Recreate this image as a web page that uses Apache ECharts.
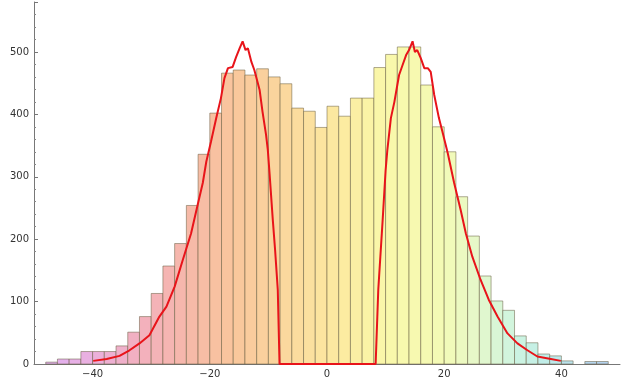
<!DOCTYPE html>
<html>
<head>
<meta charset="utf-8">
<script src="https://cdn.jsdelivr.net/npm/echarts@6/dist/echarts.min.js"></script>
<style>
  html, body { margin: 0; padding: 0; background: #fff; }
  #chart { width: 641px; height: 383px; }
</style>
</head>
<body>
<div id="chart"></div>
<script>
// Histogram bins: left edges (width 2) and counts
var binStart = -48;
var binWidth = 2;
var counts = [3, 8, 8, 20, 20, 20, 29, 51, 76, 113, 157, 193, 254, 336,
              402, 466, 471, 463, 473, 460, 449, 410, 405, 379,
              413, 397, 426, 426, 475, 496, 508, 508, 447, 380,
              340, 268, 205, 141, 101, 86, 45, 34, 16, 13, 5, 0, 4, 4];

// Density curve overlay (x, y)
var curveX = [-39.9, -37.6, -35.4, -33.7, -32.0, -30.3, -28.6, -27.4, -26.0, -24.6,
              -23.2, -22.0, -21.2, -20.6, -19.8, -18.9, -18.1, -17.5, -16.9, -16.1,
              -15.5, -14.9, -14.4, -13.9, -13.5, -12.9, -12.4, -11.8, -11.5, -11.0,
              -10.4, -10.1, -9.8, -9.25, -8.86, -8.4, -8.1,
              8.3, 8.75, 9.5, 10.0, 10.3, 10.9, 11.5, 12.0, 12.3, 12.9, 13.5, 14.0,
              14.6, 15.0, 15.4, 16.0, 16.6, 17.2, 17.7, 18.3, 19.1, 19.7, 20.6,
              21.7, 22.8, 23.7, 24.8, 26.2, 27.6, 29.1, 30.8, 32.5, 34.2, 35.9, 38.2, 39.9];
var curveY = [5, 8, 13, 22, 33, 46, 76, 92, 124, 167,
              209, 258, 290, 324, 356, 394, 426, 458, 474, 476,
              492, 506, 517, 503, 506, 484, 471, 450, 439, 404,
              367, 343, 305, 231, 183, 119, 0,
              0, 119, 231, 310, 343, 394, 420, 447, 463, 479, 495, 503,
              517, 500, 503, 490, 474, 474, 468, 431, 394, 372, 338,
              290, 247, 209, 172, 135, 103, 76, 49, 33, 22, 12, 8, 5];

// Axis tick labels
var xTicks = [-40, -20, 0, 20, 40];
var yTicks = [0, 100, 200, 300, 400, 500];

// Pale fill colour ramp along x (violet -> pink -> orange -> yellow -> mint -> cyan -> blue)
var colorStops = [
  [-47, [226, 176, 240]],
  [-40, [234, 176, 222]],
  [-32, [242, 176, 190]],
  [-24, [246, 184, 170]],
  [-16, [249, 198, 156]],
  [-6,  [251, 218, 158]],
  [2,   [252, 234, 160]],
  [10,  [250, 248, 170]],
  [20,  [243, 250, 182]],
  [26,  [228, 248, 204]],
  [32,  [206, 244, 224]],
  [38,  [190, 236, 234]],
  [46,  [180, 210, 238]]
];
function rampColor(x) {
  if (x <= colorStops[0][0]) return 'rgb(' + colorStops[0][1].join(',') + ')';
  for (var i = 1; i < colorStops.length; i++) {
    if (x <= colorStops[i][0]) {
      var a = colorStops[i - 1], b = colorStops[i];
      var t = (x - a[0]) / (b[0] - a[0]);
      var c = a[1].map(function (v, k) { return Math.round(v + (b[1][k] - v) * t); });
      return 'rgb(' + c.join(',') + ')';
    }
  }
  return 'rgb(' + colorStops[colorStops.length - 1][1].join(',') + ')';
}

var barData = counts.map(function (c, i) {
  var x0 = binStart + i * binWidth;
  return [x0, x0 + binWidth, c];
});
var lineData = curveX.map(function (x, i) { return [x, curveY[i]]; });

function minusFmt(v) {
  return v < 0 ? '\u2212' + Math.abs(v) : String(v);
}

var chart = echarts.init(document.getElementById('chart'), null, { renderer: 'canvas' });
chart.setOption({
  animation: false,
  backgroundColor: '#ffffff',
  grid: { left: 34, right: 21, top: 2, bottom: 19 },
  xAxis: {
    type: 'value',
    min: -50, max: 50, interval: 20,
    axisLine: { show: true, onZero: false, lineStyle: { color: '#777', width: 1 } },
    axisTick: { show: true, inside: true, length: 4, lineStyle: { color: '#777' },
                customValues: xTicks },
    minorTick: { show: true, splitNumber: 4, length: 2, lineStyle: { color: '#888' } },
    axisLabel: { color: '#333', fontSize: 10, fontFamily: 'DejaVu Sans', margin: 5,
                 customValues: xTicks, formatter: minusFmt },
    splitLine: { show: false }
  },
  yAxis: {
    type: 'value',
    min: 0, max: 580, interval: 100,
    axisLine: { show: true, onZero: false, lineStyle: { color: '#777', width: 1 } },
    axisTick: { show: true, inside: true, length: 4, lineStyle: { color: '#777' } },
    minorTick: { show: true, splitNumber: 5, length: 2, lineStyle: { color: '#888' } },
    axisLabel: { color: '#333', fontSize: 10, fontFamily: 'DejaVu Sans', margin: 5,
                 customValues: yTicks },
    splitLine: { show: false }
  },
  series: [
    {
      type: 'custom',
      data: barData,
      encode: { x: [0, 1], y: 2 },
      renderItem: function (params, api) {
        var x0 = api.value(0), x1 = api.value(1), v = api.value(2);
        if (v <= 0) return null;
        var p0 = api.coord([x0, v]);
        var p1 = api.coord([x1, 0]);
        return {
          type: 'rect',
          shape: { x: p0[0], y: p0[1], width: p1[0] - p0[0], height: p1[1] - p0[1] },
          style: { fill: rampColor((x0 + x1) / 2), stroke: 'rgba(100,90,60,0.5)', lineWidth: 1 }
        };
      },
      z: 2
    },
    {
      type: 'line',
      data: lineData,
      showSymbol: false,
      symbol: 'none',
      lineStyle: { color: '#e8141a', width: 2 },
      z: 5
    }
  ]
});
</script>
</body>
</html>
